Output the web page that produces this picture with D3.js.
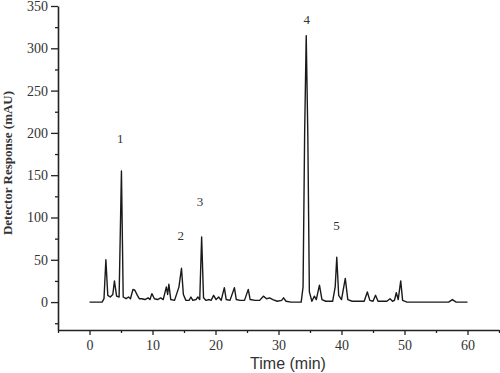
<!DOCTYPE html>
<html>
<head>
<meta charset="utf-8">
<script src="https://cdn.jsdelivr.net/npm/d3@7"></script>
<style>
  body { margin: 0; background: #fff; }
  svg { display: block; }
  .tick text { font-family: "Liberation Serif", "Times New Roman", serif; font-size: 14px; fill: #333; }
</style>
</head>
<body>
<div id="chart"></div>
<script>
// chromatogram trace: time (min) and detector response (mAU)
var times = [0, 2.0, 2.3, 2.6, 2.9, 3.3, 3.7, 3.96, 4.3, 4.7, 5.07, 5.35, 5.8, 6.2, 6.5, 6.9, 7.2, 7.6, 7.9, 8.3, 8.8, 9.3, 9.6, 9.9, 10.3, 10.8, 11.3, 11.7, 12.2, 12.4, 12.6, 12.9, 13.5, 14.2, 14.6, 14.9, 15.3, 15.8, 16.1, 16.4, 16.9, 17.2, 17.5, 17.8, 18.1, 18.5, 19.0, 19.3, 19.7, 20.1, 20.5, 20.9, 21.4, 21.7, 22.3, 23.0, 23.3, 23.9, 24.6, 25.2, 25.5, 26.3, 27.0, 27.6, 28.1, 28.6, 29.1, 29.8, 30.5, 30.8, 31.2, 32.0, 33.6, 33.9, 34.15, 34.4, 34.65, 34.9, 35.3, 35.7, 36.0, 36.5, 36.9, 37.5, 38.6, 39.0, 39.25, 39.55, 40.0, 40.6, 41.0, 41.7, 43.6, 44.1, 44.5, 45.0, 45.4, 45.8, 47.2, 47.7, 48.1, 48.4, 48.7, 49.0, 49.4, 49.7, 50.4, 57.0, 57.6, 58.2, 60];
var response = [0, 0, 4, 50, 8, 6, 9, 25, 7, 6, 155, 6, 4, 6, 4, 15, 14, 8, 4, 4, 3, 5, 3, 10, 4, 3, 5, 3, 18, 9, 21, 3, 2, 18, 40, 9, 2, 2, 6, 2, 3, 6, 3, 77, 5, 2, 3, 2, 8, 3, 6, 2, 17, 3, 2, 17, 3, 2, 2, 15, 3, 2, 2, 7, 4, 5, 3, 1, 2, 5, 1, 0, 0, 18, 200, 315, 200, 12, 1, 7, 3, 20, 3, 1, 1, 18, 53, 8, 3, 28, 3, 1, 1, 12, 2, 1, 8, 1, 1, 4, 1, 2, 11, 3, 25, 2, 0, 0, 3, 0, 0];

// numbered peak labels
var peakIds = ["1", "2", "3", "4", "5"];
var peakTimes = [4.87, 14.5, 17.55, 34.5, 39.2];
var peakLabelY = [188, 73, 114, 329, 85];

var yTicks = [0, 50, 100, 150, 200, 250, 300, 350];
var xTicks = [0, 10, 20, 30, 40, 50, 60];

var width = 500, height = 373;
var svg = d3.select("#chart").append("svg")
  .attr("width", width)
  .attr("height", height);

var x = d3.scaleLinear().domain([-5, 65]).range([58, 499]);
var y = d3.scaleLinear().domain([-33, 350]).range([330, 6]);

// minor ticks first
svg.append("g")
  .attr("transform", "translate(0,330)")
  .call(d3.axisBottom(x).tickValues(d3.range(-5, 66, 5).filter(v => v % 10 != 0)).tickSize(3).tickFormat(""))
  .call(g => g.select(".domain").remove());
svg.append("g")
  .attr("transform", "translate(58,0)")
  .call(d3.axisLeft(y).tickValues(d3.range(-25, 351, 50)).tickSize(3).tickFormat(""))
  .call(g => g.select(".domain").remove());

var xAxis = svg.append("g")
  .attr("transform", "translate(0,330)")
  .call(d3.axisBottom(x).tickValues(xTicks).tickSize(5).tickSizeOuter(0).tickPadding(5));
var yAxis = svg.append("g")
  .attr("transform", "translate(58,0)")
  .call(d3.axisLeft(y).tickValues(yTicks).tickSize(7).tickSizeOuter(0).tickPadding(3));

svg.selectAll(".domain").attr("stroke", "#222").attr("stroke-width", 1.6);
svg.selectAll(".tick line").attr("stroke", "#222").attr("stroke-width", 1.3);

var pts = times.map((t, i) => [t, response[i]]);
var line = d3.line().x(d => x(d[0])).y(d => y(d[1]));
svg.append("path")
  .datum(pts)
  .attr("d", line)
  .attr("fill", "none")
  .attr("stroke", "#1a1a1a")
  .attr("stroke-width", 1.4)
  .attr("stroke-linejoin", "round");

svg.selectAll(".peak")
  .data(peakIds)
  .enter().append("text")
  .attr("class", "peak")
  .attr("x", (d, i) => x(peakTimes[i]))
  .attr("y", (d, i) => y(peakLabelY[i]))
  .attr("text-anchor", "middle")
  .style("font-family", "Liberation Serif, serif")
  .style("font-size", "13px")
  .style("fill", "#333")
  .text(d => d);

svg.append("text")
  .attr("x", 288)
  .attr("y", 369)
  .attr("text-anchor", "middle")
  .style("font-family", "Liberation Sans, Arial, sans-serif")
  .style("font-size", "16px")
  .style("fill", "#333")
  .text("Time (min)");

svg.append("text")
  .attr("transform", "translate(12,163) rotate(-90)")
  .attr("text-anchor", "middle")
  .style("font-family", "Liberation Serif, serif")
  .style("font-weight", "bold")
  .style("font-size", "13px")
  .style("fill", "#333")
  .text("Detector Response (mAU)");
</script>
</body>
</html>
